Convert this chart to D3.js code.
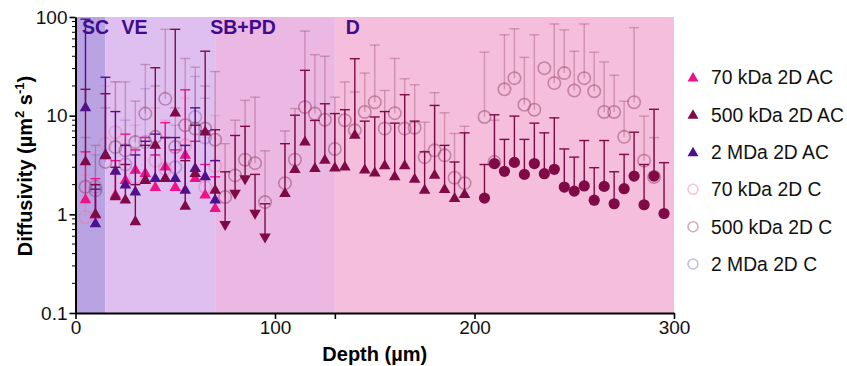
<!DOCTYPE html>
<html><head><meta charset="utf-8">
<script src="https://cdn.jsdelivr.net/npm/d3@7"></script>
<style>html,body{margin:0;padding:0;background:#fff;}svg{display:block;font-family:"Liberation Sans",Arial,sans-serif;}</style>
</head><body><svg id="chart" width="847" height="366"></svg>
<script>
// ---- data ----
const regions = ["SC","VE","SB+PD","D"];
const regionStart = [0,15,70,130];
const regionEnd = [15,70,130,300];
const xTicks = [0,100,130,200,300];
const xTickLabels = ["0","100","","200","300"];
const yTicks = [0.1,1,10,100];
const yTickLabels = ["0.1","1","10","100"];
const seriesNames = ["70 kDa 2D AC","500 kDa 2D AC","2 MDa 2D AC","70 kDa 2D C","500 kDa 2D C","2 MDa 2D C"];

const ac70Depths = [5,10,20,25,30,35,40,45,50,55,60,65,70];
const ac70Values = [1.4,0.98,1.56,2.2,2.79,2.58,1.86,3.0,1.86,3.96,2.3,1.56,1.14];
const ac70Upper  = [4.3,2.3,3.5,6.5,4.5,6.0,4.0,8.5,4.5,18.3,5.5,3.2,2.4];

const ac500Depths = [5,10,15,20,25,30,35,40,45,50,55,60,65,70,75,80,85,90,95,105,110,115,120,125,130,135,140,145,150,155,160,165,170,175,180,185,190,195,205,210,215,220,225,230,235,240,245,250,255,260,265,270,275,280,285,290,295];
const ac500Values = [3.4,1.0,3.9,1.5,1.39,0.84,2.2,5.0,2.3,10.6,1.2,2.58,6.8,1.75,0.79,1.64,2.3,1.03,0.59,1.62,2.84,5.4,2.9,3.52,2.94,3.0,6.3,2.8,2.62,3.09,2.39,3.09,2.26,1.75,2.48,1.78,1.44,1.58,1.46,3.27,2.73,3.36,2.54,3.27,2.58,2.86,1.89,1.72,1.94,1.39,1.92,1.28,1.82,2.44,1.25,2.44,1.02];
const ac500Upper = [18.5,2.0,16.7,3.0,3.2,2.0,5.0,30.6,6.0,75,3.5,8.0,45,7.2,2.7,6.3,7.8,2.54,1.28,5.2,10.1,28.8,8.95,13.2,10.5,11.5,37.8,8.8,9.7,11,8.4,16.3,8.8,4.3,12.7,5.0,3.39,6.7,3.2,10.2,5.75,9.9,5.75,8.4,6.7,9.5,4.6,3.8,5.6,2.97,5.6,2.7,4.05,6.8,3.2,11.6,3.34];
const ac500Symbols = ["up","up","up","up","up","up","up","up","up","up","up","up","up","up","down","down","down","down","down","up","up","up","up","up","up","up","up","up","up","up","up","up","up","up","up","up","up","up","circle","circle","circle","circle","circle","circle","circle","circle","circle","circle","circle","circle","circle","circle","circle","circle","circle","circle","circle"];

const ac2mDepths = [5,10,15,20,25,30,35,40,45,50,55,60,65,70];
const ac2mValues = [12,0.8,4.0,2.73,1.97,1.68,2.2,2.3,2.3,2.3,1.75,2.9,2.39,1.39];
const ac2mUpper  = [95,1.8,24.5,11,5.0,4.0,5.5,6.5,6.0,6.0,5.0,12,7.0,3.5];

const c70Depths = [5,15,20,30,40,45,55,65,70];
const c70Values = [0.94,5.2,6.8,2.39,3.5,2.9,5.0,1.89,3.1];
const c70Upper  = [2.5,20,22,8,12,9,15,6,10];

const c500Depths = [5,10,15,20,25,30,35,40,45,50,55,60,65,70,75,80,85,90,95,105,110,115,120,125,130,135,140,145,150,155,160,165,170,175,180,185,190,195,205,210,215,220,225,230,235,240,245,250,255,260,265,270,275,280,285,290];
const c500Values = [1.9,1.75,3.4,4.8,4.45,5.4,10.5,6.1,14.8,4.8,8.0,7.4,7.4,5.7,1.5,2.48,3.58,3.3,1.33,2.07,3.58,12.2,10.5,9.1,4.6,9.0,7.1,10.9,13.7,7.4,10.6,7.4,7.55,3.8,4.45,3.96,2.35,2.07,9.7,3.4,18.5,24,12.9,11.5,30.3,21.4,27,18,24,17.7,10.9,10.9,6.1,13.7,3.5,2.39];
const c500Upper  = [6,5,12,22,22,14,33,20,75,12,38,31,20,28,5.2,9,14.3,15.4,4.4,7.0,11.8,72,41.5,40,15.4,22,17.4,27,52,18,38,23.7,20.6,8.6,17.1,10.7,6.6,7.8,44,9.0,66,76,39,66,30.3,85,74,45,85,44,35,25.7,14,78,9.9,6];

const c2mDepths = [10,25,35,50,60,65];
const c2mValues = [1.9,3.2,5.4,3.0,9.7,6.0];
const c2mUpper  = [4,9,18.8,8,25,15];

// ---- layout ----
const svg = d3.select("#chart");
const x = d3.scaleLinear().domain([0,300]).range([75.5,674]);
const y = d3.scaleLog().domain([0.1,100]).range([313,17]);
const bandColors = ["#b9a3e2","#dfbfef","#ebb7e3","#f5bedc"];
const labelColor = "#3e0c8a";

const g = svg.append("g");
regions.forEach((r,i)=>{
  g.append("rect").attr("x",x(regionStart[i])).attr("y",y(100))
    .attr("width",x(regionEnd[i])-x(regionStart[i])).attr("height",y(0.1)-y(100))
    .attr("fill",bandColors[i]);
});
const labelX = [3.3,23,67.5,135.5];
regions.forEach((r,i)=>{
  g.append("text").attr("x",x(labelX[i])).attr("y",34).attr("font-size",19.5)
    .attr("font-weight","bold").attr("fill",labelColor).text(r);
});

function zip(d,v,u,s){return d.map((dd,i)=>({d:dd,v:v[i],u:u[i],s:s?s[i]:null}));}

const series = [
  {key:"c70", data:zip(c70Depths,c70Values,c70Upper), type:"open", stroke:"rgba(236,120,170,0.45)", bar:"rgba(236,120,170,0.35)"},
  {key:"c2m", data:zip(c2mDepths,c2mValues,c2mUpper), type:"open", stroke:"rgba(120,90,175,0.4)", bar:"rgba(120,90,175,0.3)"},
  {key:"c500", data:zip(c500Depths,c500Values,c500Upper), type:"open", stroke:"rgba(150,70,105,0.5)", bar:"rgba(150,70,105,0.38)"},
  {key:"ac70", data:zip(ac70Depths,ac70Values,ac70Upper), type:"fill", fill:"#ee1289", bar:"#ee1289"},
  {key:"ac2m", data:zip(ac2mDepths,ac2mValues,ac2mUpper), type:"fill", fill:"#4b1191", bar:"#4b1191"},
  {key:"ac500", data:zip(ac500Depths,ac500Values,ac500Upper,ac500Symbols), type:"fill", fill:"#7f0a46", bar:"#7f0a46"}
];

const tri = d3.symbol().type(d3.symbolTriangle).size(58);
const capW = 5;
series.forEach(s=>{
  const sg = svg.append("g");
  const bars = sg.selectAll("g.bar").data(s.data.filter(p=>p.u>p.v)).enter().append("g");
  bars.append("line").attr("x1",p=>x(p.d)).attr("x2",p=>x(p.d)).attr("y1",p=>y(p.v)).attr("y2",p=>y(p.u))
    .attr("stroke",s.bar).attr("stroke-width",1.4);
  bars.append("line").attr("x1",p=>x(p.d)-capW).attr("x2",p=>x(p.d)+capW).attr("y1",p=>y(p.u)).attr("y2",p=>y(p.u))
    .attr("stroke",s.bar).attr("stroke-width",1.4);
  if(s.type==="open"){
    sg.selectAll("circle.m").data(s.data).enter().append("circle")
      .attr("cx",p=>x(p.d)).attr("cy",p=>y(p.v)).attr("r",6.2)
      .attr("fill","none").attr("stroke",s.stroke).attr("stroke-width",1.6);
  } else {
    s.data.forEach(p=>{
      const sym = p.s||"up";
      if(sym==="circle"){
        sg.append("circle").attr("cx",x(p.d)).attr("cy",y(p.v)).attr("r",5.6).attr("fill",s.fill);
      } else {
        sg.append("path").attr("d",tri())
          .attr("transform",`translate(${x(p.d)},${y(p.v)})`+(sym==="down"?" rotate(180)":""))
          .attr("fill",s.fill);
      }
    });
  }
});

// axes
const yAxis = d3.axisLeft(y).tickValues(yTicks).tickFormat((d,i)=>yTickLabels[i]).tickSize(6).tickSizeOuter(0);
const ya = svg.append("g").attr("transform","translate(75.5,0)").call(yAxis);
ya.select(".domain").attr("stroke","#000").attr("stroke-width",2);
ya.selectAll(".tick line").attr("stroke","#000").attr("stroke-width",1.6);
ya.selectAll(".tick text").attr("font-size",19).attr("fill","#111").attr("x",-8).attr("font-family","Liberation Sans, Arial, sans-serif");
const minor = [];
[0.1,1,10].forEach(b=>{for(let k=2;k<=9;k++) minor.push(b*k);});
svg.append("g").selectAll("line").data(minor).enter().append("line")
  .attr("x1",72).attr("x2",75.5).attr("y1",d=>y(d)).attr("y2",d=>y(d)).attr("stroke","#000").attr("stroke-width",1);

const xAxis = d3.axisBottom(x).tickValues(xTicks).tickFormat((d,i)=>xTickLabels[i]).tickSize(6).tickSizeOuter(0);
const xa = svg.append("g").attr("transform","translate(0,313)").call(xAxis);
xa.select(".domain").attr("stroke","#000").attr("stroke-width",2);
xa.selectAll(".tick line").attr("stroke","#000").attr("stroke-width",1.6);
xa.selectAll(".tick text").attr("font-size",19).attr("fill","#111").attr("y",8).attr("font-family","Liberation Sans, Arial, sans-serif");

svg.append("text").attr("x",x(150)).attr("y",361).attr("text-anchor","middle")
  .attr("font-size",20).attr("font-weight","bold").text("Depth (µm)");
const yt = svg.append("text").attr("transform","translate(32,166) rotate(-90)").attr("text-anchor","middle")
  .attr("font-size",20).attr("font-weight","bold");
yt.append("tspan").text("Diffusivity (µm");
yt.append("tspan").attr("dy",-8).attr("font-size",13).text("2");
yt.append("tspan").attr("dy",8).text(" s");
yt.append("tspan").attr("dy",-8).attr("font-size",13).text("-1");
yt.append("tspan").attr("dy",8).text(")");

// legend
const legY = [77.3,114.5,152,189.3,226.7,264];
const legFill = ["#ee1289","#7f0a46","#4b1191"];
const legStroke = ["#f6c4da","#d2adbb","#c6bce4"];
const lg = svg.append("g");
seriesNames.forEach((n,i)=>{
  if(i<3){
    lg.append("path").attr("d",d3.symbol().type(d3.symbolTriangle).size(52)())
      .attr("transform",`translate(693,${legY[i]+1})`).attr("fill",legFill[i]);
  } else {
    lg.append("circle").attr("cx",693).attr("cy",legY[i]).attr("r",5).attr("fill","none")
      .attr("stroke",legStroke[i-3]).attr("stroke-width",1.6);
  }
  lg.append("text").attr("x",711).attr("y",legY[i]+7).attr("font-size",19.3).attr("fill","#111").text(n);
});
</script></body></html>
